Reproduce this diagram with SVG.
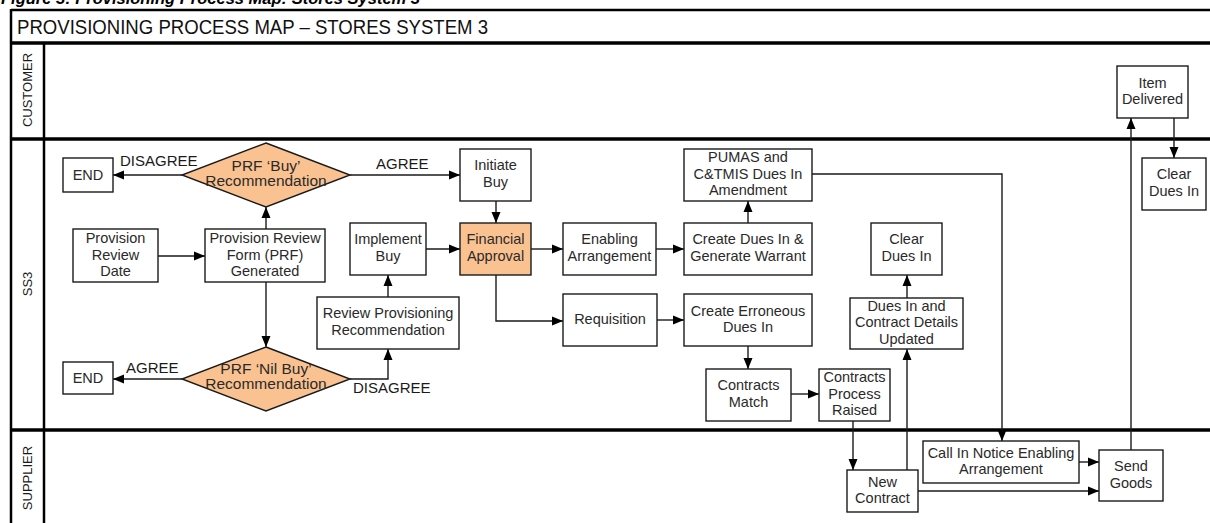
<svg xmlns="http://www.w3.org/2000/svg" width="1210" height="523" viewBox="0 0 1210 523">
  <style>
    .frame { stroke: #000; stroke-width: 2.5; fill: none; }
    .lane { stroke: #000; stroke-width: 3.5; fill: none; }
    .box { fill: #fff; stroke: #1a1a1a; stroke-width: 1.4; }
    .hl { fill: #fac291; stroke: #1a1a1a; stroke-width: 1.4; }
    .t { font-family: "Liberation Sans", Arial, sans-serif; font-size: 14.5px; fill: #2a2a2a; text-anchor: middle; }
    .dt { font-family: "Liberation Sans", Arial, sans-serif; font-size: 15.5px; fill: #2a2a2a; text-anchor: middle; }
    .lbl { font-family: "Liberation Sans", Arial, sans-serif; font-size: 15px; fill: #1a1a1a; }
    .lanelbl { font-family: "Liberation Sans", Arial, sans-serif; font-size: 13px; fill: #1a1a1a; text-anchor: middle; }
    .title { font-family: "Liberation Sans", Arial, sans-serif; font-size: 21px; fill: #111; }
    .caption { font-family: "Liberation Sans", Arial, sans-serif; font-size: 16.5px; font-weight: bold; font-style: italic; fill: #000; }
    .c { stroke: #1a1a1a; stroke-width: 1.4; fill: none; marker-end: url(#arr); }
  </style>
  <defs>
    <marker id="arr" markerUnits="userSpaceOnUse" markerWidth="11" markerHeight="10" refX="11" refY="5" orient="auto">
      <path d="M0,0.5 L11,5 L0,9.5 z" fill="#000"/>
    </marker>
  </defs>

  <rect width="1210" height="523" fill="#fff"/>

  <!-- caption above the frame -->
  <text class="caption" x="1" y="4">Figure 3: Provisioning Process Map: Stores System 3</text>

  <!-- frame and swimlanes -->
  <g id="lanes">
    <line class="frame" x1="11" y1="10" x2="1210" y2="10"/>
    <line class="frame" x1="11" y1="9" x2="11" y2="523"/>
    <line class="lane" x1="10" y1="43" x2="1210" y2="43"/>
    <line class="lane" x1="10" y1="139" x2="1210" y2="139"/>
    <line class="lane" x1="10" y1="430" x2="1210" y2="430"/>
    <line class="frame" x1="44" y1="43" x2="44" y2="523"/>
    <text class="title" x="17" y="34" textLength="471" lengthAdjust="spacingAndGlyphs">PROVISIONING PROCESS MAP – STORES SYSTEM 3</text>
    <text class="lanelbl" transform="translate(32,90) rotate(-90)">CUSTOMER</text>
    <text class="lanelbl" transform="translate(32,284) rotate(-90)">SS3</text>
    <text class="lanelbl" transform="translate(32,478) rotate(-90)">SUPPLIER</text>
  </g>

  <!-- connectors -->
  <g id="connectors">
    <line class="c" x1="158" y1="256" x2="205" y2="256"/>
    <line class="c" x1="266" y1="229" x2="266" y2="207"/>
    <line class="c" x1="182" y1="175" x2="113" y2="175"/>
    <line class="c" x1="350" y1="175" x2="460" y2="175"/>
    <line class="c" x1="266" y1="282" x2="266" y2="347"/>
    <line class="c" x1="182" y1="379" x2="113" y2="379"/>
    <polyline class="c" points="350,379 388,379 388,349"/>
    <line class="c" x1="388" y1="297" x2="388" y2="275"/>
    <line class="c" x1="426" y1="249" x2="460" y2="249"/>
    <line class="c" x1="496" y1="201" x2="496" y2="223"/>
    <line class="c" x1="531" y1="249" x2="563" y2="249"/>
    <line class="c" x1="656" y1="249" x2="684" y2="249"/>
    <line class="c" x1="748" y1="223" x2="748" y2="201"/>
    <polyline class="c" points="496,275 496,321 563,321"/>
    <line class="c" x1="657" y1="320" x2="684" y2="320"/>
    <line class="c" x1="748" y1="346" x2="748" y2="369"/>
    <line class="c" x1="791" y1="394" x2="819" y2="394"/>
    <line class="c" x1="853" y1="421" x2="853" y2="470"/>
    <line class="c" x1="907" y1="470" x2="907" y2="349"/>
    <line class="c" x1="907" y1="298" x2="907" y2="275"/>
    <polyline class="c" points="812,174 1002,174 1002,441"/>
    <line class="c" x1="918" y1="491" x2="1099" y2="491"/>
    <line class="c" x1="1079" y1="462" x2="1099" y2="462"/>
    <line class="c" x1="1131" y1="450" x2="1131" y2="118"/>
    <line class="c" x1="1174" y1="118" x2="1174" y2="158"/>
    <text class="lbl" x="120" y="166">DISAGREE</text>
    <text class="lbl" x="376" y="169">AGREE</text>
    <text class="lbl" x="126" y="373">AGREE</text>
    <text class="lbl" x="353" y="393">DISAGREE</text>
  </g>

  <!-- SS3 lane nodes -->
  <g id="end-disagree">
    <rect class="box" x="63" y="158" width="50" height="34"/>
    <text class="t" x="88" y="180">END</text>
  </g>
  <g id="prf-buy">
    <polygon class="hl" points="266,143 350,175 266,207 182,175"/>
    <text class="dt" x="266" y="171">PRF ‘Buy’</text>
    <text class="dt" x="266" y="186">Recommendation</text>
  </g>
  <g id="provision-review-date">
    <rect class="box" x="73" y="229" width="85" height="53"/>
    <text class="t" x="115.5" y="243">Provision</text>
    <text class="t" x="115.5" y="259.5">Review</text>
    <text class="t" x="115.5" y="276">Date</text>
  </g>
  <g id="prf-generated">
    <rect class="box" x="205" y="229" width="120" height="53"/>
    <text class="t" x="265" y="243">Provision Review</text>
    <text class="t" x="265" y="259.5">Form (PRF)</text>
    <text class="t" x="265" y="276">Generated</text>
  </g>
  <g id="end-agree">
    <rect class="box" x="63" y="362" width="50" height="32"/>
    <text class="t" x="88" y="383">END</text>
  </g>
  <g id="prf-nil-buy">
    <polygon class="hl" points="266,347 350,379 266,411 182,379"/>
    <text class="dt" x="266" y="374">PRF ‘Nil Buy’</text>
    <text class="dt" x="266" y="389">Recommendation</text>
  </g>
  <g id="implement-buy">
    <rect class="box" x="350" y="223" width="76" height="52"/>
    <text class="t" x="388" y="244">Implement</text>
    <text class="t" x="388" y="260.5">Buy</text>
  </g>
  <g id="review-provisioning">
    <rect class="box" x="317" y="297" width="142" height="52"/>
    <text class="t" x="388" y="318">Review Provisioning</text>
    <text class="t" x="388" y="334.5">Recommendation</text>
  </g>
  <g id="initiate-buy">
    <rect class="box" x="460" y="149" width="71" height="52"/>
    <text class="t" x="495.5" y="170">Initiate</text>
    <text class="t" x="495.5" y="186.5">Buy</text>
  </g>
  <g id="financial-approval">
    <rect class="hl" x="460" y="223" width="71" height="52"/>
    <text class="t" x="495.5" y="244">Financial</text>
    <text class="t" x="495.5" y="260.5">Approval</text>
  </g>
  <g id="enabling-arrangement">
    <rect class="box" x="563" y="223" width="93" height="52"/>
    <text class="t" x="609.5" y="244">Enabling</text>
    <text class="t" x="609.5" y="260.5">Arrangement</text>
  </g>
  <g id="create-dues-in">
    <rect class="box" x="684" y="223" width="128" height="52"/>
    <text class="t" x="748" y="244">Create Dues In &amp;</text>
    <text class="t" x="748" y="260.5">Generate Warrant</text>
  </g>
  <g id="pumas-amendment">
    <rect class="box" x="684" y="149" width="128" height="52"/>
    <text class="t" x="748" y="162">PUMAS and</text>
    <text class="t" x="748" y="178.5">C&amp;TMIS Dues In</text>
    <text class="t" x="748" y="195">Amendment</text>
  </g>
  <g id="requisition">
    <rect class="box" x="563" y="294" width="94" height="52"/>
    <text class="t" x="610" y="324">Requisition</text>
  </g>
  <g id="create-erroneous">
    <rect class="box" x="684" y="294" width="128" height="52"/>
    <text class="t" x="748" y="315.5">Create Erroneous</text>
    <text class="t" x="748" y="332">Dues In</text>
  </g>
  <g id="contracts-match">
    <rect class="box" x="706" y="369" width="85" height="52"/>
    <text class="t" x="748.5" y="390">Contracts</text>
    <text class="t" x="748.5" y="406.5">Match</text>
  </g>
  <g id="contracts-process-raised">
    <rect class="box" x="819" y="369" width="71" height="52"/>
    <text class="t" x="854.5" y="382">Contracts</text>
    <text class="t" x="854.5" y="398.5">Process</text>
    <text class="t" x="854.5" y="415">Raised</text>
  </g>
  <g id="clear-dues-in-ss3">
    <rect class="box" x="871" y="223" width="71" height="52"/>
    <text class="t" x="906.5" y="244">Clear</text>
    <text class="t" x="906.5" y="260.5">Dues In</text>
  </g>
  <g id="contract-details-updated">
    <rect class="box" x="850" y="298" width="113" height="51"/>
    <text class="t" x="906.5" y="310.5">Dues In and</text>
    <text class="t" x="906.5" y="327">Contract Details</text>
    <text class="t" x="906.5" y="343.5">Updated</text>
  </g>
  <g id="clear-dues-in-final">
    <rect class="box" x="1142" y="158" width="64" height="52"/>
    <text class="t" x="1174" y="179">Clear</text>
    <text class="t" x="1174" y="195.5">Dues In</text>
  </g>

  <!-- Customer lane -->
  <g id="item-delivered">
    <rect class="box" x="1117" y="66" width="71" height="52"/>
    <text class="t" x="1152.5" y="87.5">Item</text>
    <text class="t" x="1152.5" y="104">Delivered</text>
  </g>

  <!-- Supplier lane -->
  <g id="new-contract">
    <rect class="box" x="847" y="470" width="71" height="42"/>
    <text class="t" x="882.5" y="486.5">New</text>
    <text class="t" x="882.5" y="503">Contract</text>
  </g>
  <g id="call-in-notice">
    <rect class="box" x="923" y="441" width="156" height="42"/>
    <text class="t" x="1001" y="457.5">Call In Notice Enabling</text>
    <text class="t" x="1001" y="474">Arrangement</text>
  </g>
  <g id="send-goods">
    <rect class="box" x="1099" y="450" width="64" height="51"/>
    <text class="t" x="1131" y="471">Send</text>
    <text class="t" x="1131" y="487.5">Goods</text>
  </g>
</svg>
